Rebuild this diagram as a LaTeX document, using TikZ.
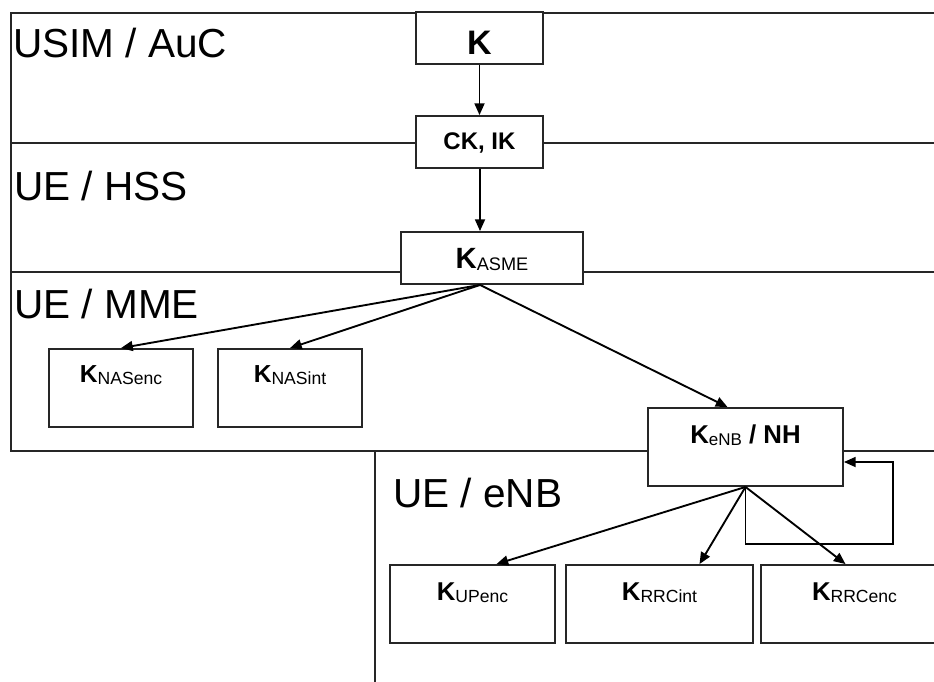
\documentclass[tikz,border=0pt]{standalone}
\usepackage{fontspec}
\setmainfont{Liberation Sans}
\usetikzlibrary{arrows.meta}
\newcommand{\ksub}[2]{\raisebox{-0.1em}{\mdseries\fontsize{#1}{#1}\selectfont #2}}

\begin{document}
\begin{tikzpicture}[x=0.03cm, y=-0.03cm,
  keybox/.style={draw=black!85, line width=1.6pt, fill=white, inner sep=0pt, align=center, font=\bfseries},
  region/.style={draw=black!85, line width=1.6pt},
  lbl/.style={anchor=base west, inner sep=0pt, font=\fontsize{34.6}{40}\selectfont},
  arr/.style={draw=black, line width=1.6pt, -{Triangle[length=10pt,width=8.5pt]}}]

\clip (0,0) rectangle (934,682);
\fill[white] (0,0) rectangle (934,682);

% layer boundaries
\draw[region] (950,13) -- (11,13) -- (11,451) -- (950,451);
\draw[region] (11,143) -- (950,143);
\draw[region] (11,272) -- (950,272);
\draw[region] (375,451) -- (375,700);

\node[lbl] (usimlbl) at (13,58) {USIM / AuC};
\node[lbl] (hsslbl) at (14,201) {UE / HSS};
\node[lbl] (mmelbl) at (14,318) {UE / MME};
\node[lbl] (enblbl) at (393,507) {UE / eNB};

% keys
\node[keybox, minimum width=3.81cm, text height=1.29cm, text depth=0.27cm] (K) at (479.5,38) {\fontsize{29}{32}\selectfont K};
\node[keybox, minimum width=3.81cm, text height=1.02cm, text depth=0.54cm] (CKIK) at (479.5,142) {\fontsize{20.5}{24}\selectfont CK, IK};
\node[keybox, minimum width=5.46cm, text height=1.08cm, text depth=0.48cm] (KASME) at (492,258) {\fontsize{25}{30}\selectfont K\ksub{15.5}{ASME}};

\node[keybox, minimum width=4.32cm, text height=0.99cm, text depth=1.35cm] (KNASenc) at (121,388) {\fontsize{21}{24}\selectfont K\ksub{15}{NASenc}};
\node[keybox, minimum width=4.32cm, text height=0.99cm, text depth=1.35cm] (KNASint) at (290,388) {\fontsize{21}{24}\selectfont K\ksub{15}{NASint}};

\node[keybox, minimum width=5.85cm, text height=1.05cm, text depth=1.29cm] (KeNB) at (745.5,447) {\fontsize{22}{26}\selectfont K\ksub{14.5}{eNB} / NH};

\node[keybox, minimum width=4.95cm, text height=1.05cm, text depth=1.29cm] (KUPenc) at (472.5,604) {\fontsize{22}{26}\selectfont K\ksub{15}{UPenc}};
\node[keybox, minimum width=5.61cm, text height=1.05cm, text depth=1.29cm] (KRRCint) at (659.5,604) {\fontsize{22}{26}\selectfont K\ksub{15}{RRCint}};
\node[keybox, minimum width=5.61cm, text height=1.05cm, text depth=1.29cm] (KRRCenc) at (854.5,604) {\fontsize{22}{26}\selectfont K\ksub{15}{RRCenc}};

% derivations
\draw[arr] (K.south) -- (CKIK.north);
\draw[arr] ([xshift=0.015cm]CKIK.south) -- ([xshift=-0.36cm]KASME.north);

\coordinate (asmeout) at ([xshift=-0.36cm]KASME.south);
\draw[arr] (asmeout) -- (KNASenc.north);
\draw[arr] (asmeout) -- (KNASint.north);
\draw[arr] (asmeout) -- ([xshift=-0.54cm]KeNB.north);

\draw[arr] (KeNB.south) -- ([xshift=0.72cm]KUPenc.north);
\draw[arr] (KeNB.south) -- ([xshift=1.2cm]KRRCint.north);
\draw[arr] (KeNB.south) -- ([xshift=-0.27cm]KRRCenc.north);

\coordinate (loopcorner) at (893,544);
\draw[arr] (KeNB.south) |- (loopcorner) |- ([yshift=-0.45cm]KeNB.east);
\end{tikzpicture}
\end{document}
